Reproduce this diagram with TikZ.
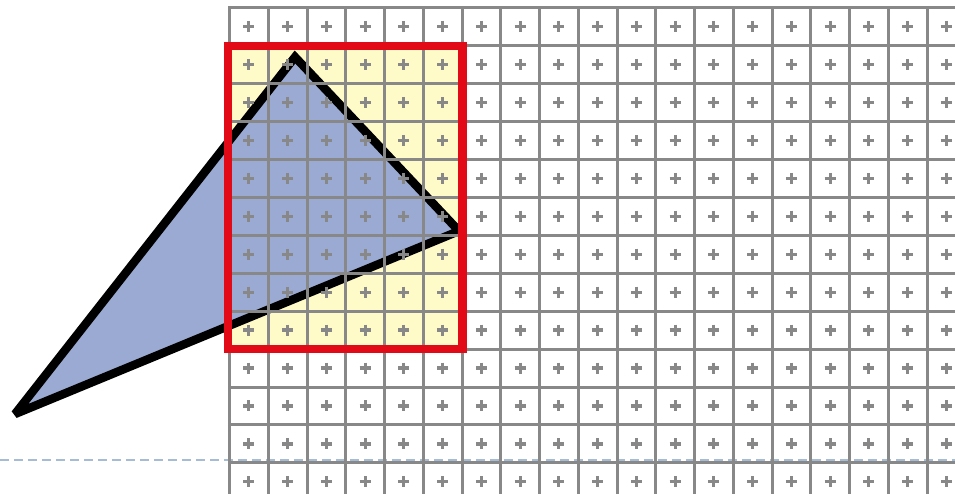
\documentclass[tikz,border=0pt]{standalone}
\definecolor{gridgray}{RGB}{136,136,136}
\definecolor{redline}{RGB}{227,10,23}
\definecolor{yellowfill}{RGB}{255,251,200}
\definecolor{trifill}{RGB}{155,170,210}
\definecolor{dashblue}{RGB}{166,188,212}
\tikzset{
  gridline/.style={gridgray, line width=3pt},
  plusmark/.style={gridgray, line width=3.2pt},
  triangleshape/.style={black, line width=8.5pt, line join=miter, miter limit=2, fill=trifill},
  clipframe/.style={redline, line width=8.3pt, line join=miter},
  baseline dash/.style={dashblue, line width=2pt, dash pattern=on 9pt off 5pt}
}
\begin{document}
\begin{tikzpicture}[x=1pt,y=-1pt]
\useasboundingbox (0,0) rectangle (955,494);
\fill[white] (0,0) rectangle (955,494);
% yellow clip region
\fill[yellowfill] (228.2,45.8) rectangle (462.5,349.2);
% triangle
\draw[triangleshape] (15,414) -- (295,57) -- (459,231) -- cycle;
% dashed baseline
\draw[baseline dash] (0,460) -- (955,460);
% grid
\foreach \k in {0,...,18}
  \draw[gridline] ({229.5+38.75*\k},5.9) -- ({229.5+38.75*\k},494);
\foreach \j in {0,...,12}
  \draw[gridline] (228,{7.5+37.95*\j}) -- (955,{7.5+37.95*\j});
% plus marks at pixel centres
\foreach \k in {0,...,18}
  \foreach \j in {0,...,12}{
    \draw[plusmark] ({229.5+38.75*(\k+0.5)-5.5},{7.5+37.95*(\j+0.5)}) -- ++(11,0);
    \draw[plusmark] ({229.5+38.75*(\k+0.5)},{7.5+37.95*(\j+0.5)-5.5}) -- ++(0,11);
  }
% red clip rectangle
\draw[clipframe] (228.2,45.8) rectangle (462.5,349.2);
\end{tikzpicture}
\end{document}
